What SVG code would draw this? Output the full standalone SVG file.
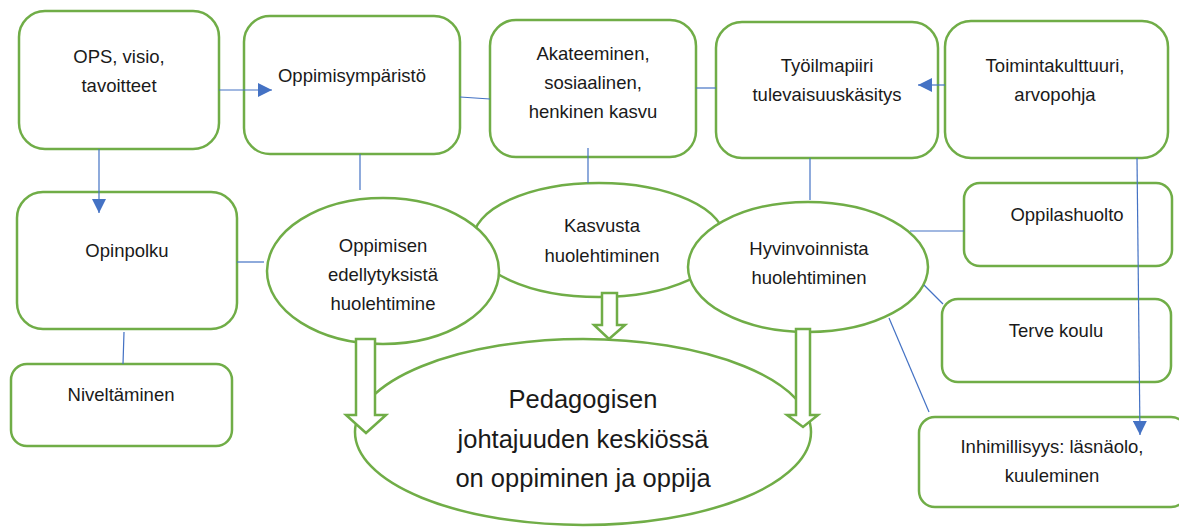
<svg xmlns="http://www.w3.org/2000/svg" width="1179" height="530" viewBox="0 0 1179 530">
  <style>
    .box { fill: #ffffff; stroke: #70ad47; stroke-width: 2.5; }
    .ell { fill: #ffffff; stroke: #70ad47; stroke-width: 2.5; }
    .blk { fill: #ffffff; stroke: #70ad47; stroke-width: 2.5; stroke-linejoin: miter; }
    .ln { fill: none; stroke: #4472c4; stroke-width: 1.2; }
    .t { font-family: "Liberation Sans", Arial, sans-serif; font-size: 18.5px; fill: #1a1a1a; text-anchor: middle; }
    .big { font-size: 25.5px; }
  </style>
  <defs>
    <marker id="arr" viewBox="0 0 14 14" refX="14" refY="7" markerWidth="14" markerHeight="14" markerUnits="userSpaceOnUse" orient="auto">
      <path d="M0,0 L14,7 L0,14 Z" fill="#4472c4"/>
    </marker>
  </defs>
  <rect width="1179" height="530" fill="#ffffff"/>

  <!-- top row -->
  <g id="ops">
    <rect class="box" x="19" y="11" width="200" height="138" rx="26"/>
    <text class="t" x="119" y="63">OPS, visio,</text>
    <text class="t" x="119" y="92">tavoitteet</text>
  </g>
  <g id="oppimisymparisto">
    <rect class="box" x="244" y="16" width="216" height="138" rx="26"/>
    <text class="t" x="352" y="82">Oppimisympäristö</text>
  </g>
  <g id="akateeminen">
    <rect class="box" x="490" y="20" width="206" height="137" rx="26"/>
    <text class="t" x="593" y="60">Akateeminen,</text>
    <text class="t" x="593" y="89">sosiaalinen,</text>
    <text class="t" x="593" y="118">henkinen kasvu</text>
  </g>
  <g id="tyoilmapiiri">
    <rect class="box" x="716" y="22" width="222" height="136" rx="26"/>
    <text class="t" x="827" y="72">Työilmapiiri</text>
    <text class="t" x="827" y="101">tulevaisuuskäsitys</text>
  </g>
  <g id="toimintakulttuuri">
    <rect class="box" x="945" y="21" width="223" height="137" rx="26"/>
    <text class="t" x="1055" y="72">Toimintakulttuuri,</text>
    <text class="t" x="1055" y="101">arvopohja</text>
  </g>

  <!-- left column -->
  <g id="opinpolku">
    <rect class="box" x="17" y="192" width="220" height="137" rx="26"/>
    <text class="t" x="127" y="257">Opinpolku</text>
  </g>
  <g id="niveltaminen">
    <rect class="box" x="11" y="364" width="221" height="82" rx="16"/>
    <text class="t" x="121" y="401">Niveltäminen</text>
  </g>

  <!-- right column -->
  <g id="oppilashuolto">
    <rect class="box" x="964" y="183" width="208" height="83" rx="16"/>
    <text class="t" x="1067" y="221">Oppilashuolto</text>
  </g>
  <g id="terve-koulu">
    <rect class="box" x="942" y="299" width="229" height="83" rx="16"/>
    <text class="t" x="1056" y="337">Terve koulu</text>
  </g>
  <g id="inhimillisyys">
    <rect class="box" x="919" y="417" width="268" height="90" rx="16"/>
    <text class="t" x="1052" y="453">Inhimillisyys: läsnäolo,</text>
    <text class="t" x="1052" y="482">kuuleminen</text>
  </g>

  <!-- ellipses -->
  <g id="kasvusta">
    <ellipse class="ell" cx="599" cy="240" rx="126" ry="57"/>
    <text class="t" x="602" y="232">Kasvusta</text>
    <text class="t" x="602" y="262">huolehtiminen</text>
  </g>
  <g id="oppimisen">
    <ellipse class="ell" cx="383" cy="271" rx="116" ry="73"/>
    <text class="t" x="383" y="252">Oppimisen</text>
    <text class="t" x="383" y="281">edellytyksistä</text>
    <text class="t" x="383" y="310">huolehtimine</text>
  </g>
  <g id="hyvinvoinnista">
    <ellipse class="ell" cx="808" cy="267" rx="120" ry="65"/>
    <text class="t" x="809" y="255">Hyvinvoinnista</text>
    <text class="t" x="809" y="284">huolehtiminen</text>
  </g>
  <g id="pedagogisen">
    <ellipse class="ell" cx="583" cy="432" rx="228" ry="93"/>
    <text class="t big" x="583" y="408">Pedagogisen</text>
    <text class="t big" x="583" y="448">johtajuuden keskiössä</text>
    <text class="t big" x="583" y="487">on oppiminen ja oppija</text>
  </g>

  <!-- block arrows into the centre -->
  <g id="block-arrows">
    <path class="blk" d="M356,339 L375,339 L375,415 L386,415 L366,433 L346,415 L356,415 Z"/>
    <path class="blk" d="M602,293 L617,293 L617,325 L625,325 L609,339 L594,325 L602,325 Z"/>
    <path class="blk" d="M796,329 L810,329 L810,415 L818,415 L803,427 L787,415 L796,415 Z"/>
  </g>

  <!-- connectors, drawn over the shapes -->
  <g id="connectors">
    <line class="ln" x1="219" y1="90" x2="272" y2="90" marker-end="url(#arr)"/>
    <line class="ln" x1="99" y1="149" x2="99" y2="213" marker-end="url(#arr)"/>
    <line class="ln" x1="945" y1="85" x2="918" y2="85" marker-end="url(#arr)"/>
    <line class="ln" x1="1137" y1="158" x2="1140" y2="435" marker-end="url(#arr)"/>
    <line class="ln" x1="460" y1="97" x2="490" y2="99"/>
    <line class="ln" x1="696" y1="88" x2="716" y2="88"/>
    <line class="ln" x1="360" y1="154" x2="360" y2="190"/>
    <line class="ln" x1="588" y1="148" x2="588" y2="183"/>
    <line class="ln" x1="810" y1="158" x2="810" y2="200"/>
    <line class="ln" x1="237" y1="262" x2="264" y2="262"/>
    <line class="ln" x1="124" y1="332" x2="123" y2="364"/>
    <line class="ln" x1="910" y1="231" x2="964" y2="231"/>
    <line class="ln" x1="924" y1="285" x2="943" y2="304"/>
    <line class="ln" x1="889" y1="318" x2="929" y2="412"/>
  </g>
</svg>
